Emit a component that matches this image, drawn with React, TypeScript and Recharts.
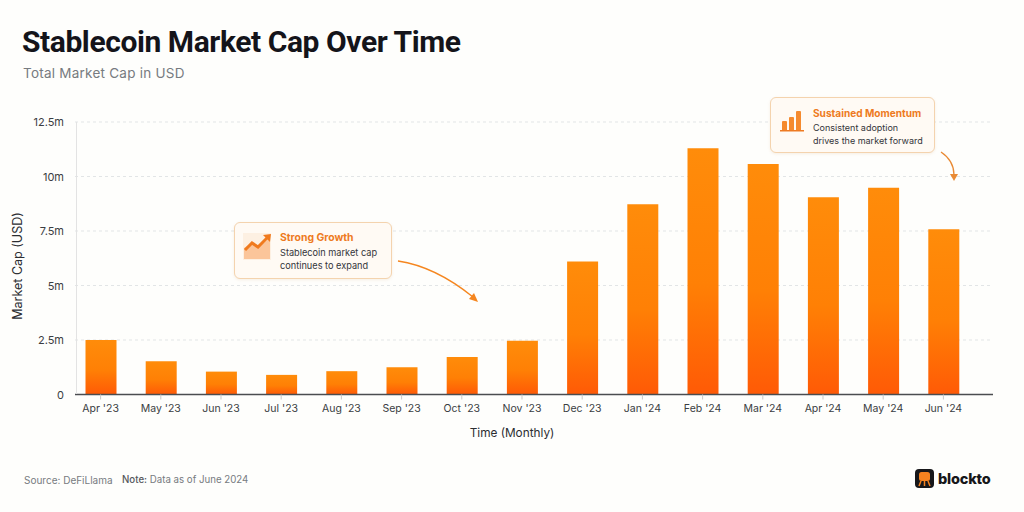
import React from "react";
import { BarChart, Bar, XAxis, YAxis, CartesianGrid, ReferenceLine } from "recharts";

const months = ["Apr '23","May '23","Jun '23","Jul '23","Aug '23","Sep '23","Oct '23","Nov '23","Dec '23","Jan '24","Feb '24","Mar '24","Apr '24","May '24","Jun '24"];
const marketCap = [2.5,1.53,1.05,0.9,1.07,1.25,1.72,2.46,6.1,8.73,11.3,10.57,9.05,9.48,7.58];
const yTicks = [0,2.5,5,7.5,10,12.5];
const yLabels = ["0","2.5m","5m","7.5m","10m","12.5m"];
const data = months.map((month,i)=>({month,value:marketCap[i]}));
const font = "Inter, 'Noto Sans', sans-serif";

const Abs = ({x,y,style,children}:any)=>(
  <div style={{position:"absolute",left:x,top:y,whiteSpace:"nowrap",fontFamily:font,...style}}>{children}</div>
);

export default function App(){
  return (
    <div style={{position:"fixed",left:0,top:0,width:1024,height:512,background:"#fefefc",overflow:"hidden"}}>
      <Abs x={22} y={24} style={{fontFamily:"Roboto, sans-serif",fontWeight:700,fontSize:30,lineHeight:"36px",color:"#14141a",letterSpacing:-0.42}}>Stablecoin Market Cap Over Time</Abs>
      <Abs x={23} y={64} style={{fontSize:13.5,lineHeight:"18px",color:"#777b80",letterSpacing:0.24}}>Total Market Cap in USD</Abs>

      <div style={{position:"absolute",left:0,top:0}}>
        <BarChart width={1024} height={512} data={data} margin={{top:122,right:31,bottom:67.5,left:75}}>
          <defs>
            <linearGradient id="barFill" x1="0" y1="0" x2="0" y2="1">
              <stop offset="0%" stopColor="#ff8c0a"/>
              <stop offset="55%" stopColor="#ff8005"/>
              <stop offset="100%" stopColor="#ff5a06"/>
            </linearGradient>
          </defs>
          <CartesianGrid horizontal vertical={false} stroke="#e2e5e6" strokeDasharray="3 3"/>
          <XAxis dataKey="month" interval={0} padding={{left:-4.5,right:19.5}} tickLine={{stroke:"#c9c9c9"}} tickSize={5} axisLine={false}
            tick={{fontSize:10.5,fill:"#3a3d42",fontFamily:font,dy:3}}
            label={{value:"Time (Monthly)",position:"insideBottom",offset:8,dx:-22,fontSize:11.8,fill:"#2b2d31",fontFamily:font}} height={50}/>
          <YAxis width={0} domain={[0,12.5]} ticks={yTicks} tickFormatter={(v:number)=>yLabels[yTicks.indexOf(v)]} tickLine={false} axisLine={false} hide/>
          <ReferenceLine y={0} stroke="#4b4d50" strokeWidth={1.5}/>
          <Bar dataKey="value" fill="url(#barFill)" barSize={31} isAnimationActive={false}/>
        </BarChart>
      </div>

      {yTicks.map((t,i)=>(
        <Abs key={t} x={0} y={394.5-t*21.8-8} style={{width:64,textAlign:"right",fontSize:11,lineHeight:"16px",color:"#3a3d42"}}>{yLabels[i]}</Abs>
      ))}
      <div style={{position:"absolute",left:75.5,top:122,width:1,height:272,background:"#e3e3e3"}}/>
      <Abs x={18} y={258} style={{fontSize:12.5,lineHeight:"16px",color:"#2b2d31",transform:"translate(-50%,0) rotate(-90deg)"}}>Market Cap (USD)</Abs>

      <div style={{position:"absolute",left:234,top:222,width:158,height:57,boxSizing:"border-box",background:"#fffaf4",border:"1px solid #f4d3ae",borderRadius:6,boxShadow:"0 1px 3px rgba(200,150,90,0.15)"}}/>
      <Abs x={280} y={231} style={{fontSize:10.4,fontWeight:700,lineHeight:"14px",color:"#ee7a22"}}>Strong Growth</Abs>
      <Abs x={280} y={246} style={{fontSize:9.2,lineHeight:"13px",color:"#33353a"}}>Stablecoin market cap<br/>continues to expand</Abs>

      <div style={{position:"absolute",left:770,top:97,width:165,height:56,boxSizing:"border-box",background:"#fffaf4",border:"1px solid #f4d3ae",borderRadius:6,boxShadow:"0 1px 3px rgba(200,150,90,0.15)"}}/>
      <Abs x={813} y={106} style={{fontSize:10.1,fontWeight:700,lineHeight:"14px",color:"#ee7a22"}}>Sustained Momentum</Abs>
      <Abs x={813} y={121} style={{fontSize:9,lineHeight:"13px",color:"#33353a"}}>Consistent adoption<br/>drives the market forward</Abs>

      <svg width={1024} height={512} style={{position:"absolute",left:0,top:0,pointerEvents:"none"}}>
        <rect x={243} y={233} width={28} height={27} fill="#fdf0e2"/>
        <path d="M244 259 V248 L252 243 L258 248 L270 238 V259 Z" fill="#fbc59a"/>
        <path d="M245 250 L252 243 L258 247 L268 237" fill="none" stroke="#f07a1e" strokeWidth={3}/>
        <path d="M263 235 L271 234 L270 242 Z" fill="#f07a1e"/>
        <rect x={782} y={121} width={5} height={10} rx={1} fill="#f58a2e"/>
        <rect x={789} y={117} width={5} height={14} rx={1} fill="#f58a2e"/>
        <rect x={796} y={111} width={5} height={20} rx={1} fill="#f58a2e"/>
        <rect x={780} y={130} width={24} height={1.5} fill="#ee7a22"/>
        <path d="M398 261 C425 265 452 280 473 297" fill="none" stroke="#f5861f" strokeWidth={1.3}/>
        <path d="M478 302 L469 299 L474 293 Z" fill="#f5861f"/>
        <path d="M941 152 C950 158 954 166 954 175" fill="none" stroke="#e98a34" strokeWidth={1.3}/>
        <path d="M954 181 L950 174 L958 174 Z" fill="#e98a34"/>
        <rect x={915} y={469} width={19} height={19} rx={4} fill="#17171a"/>
        <rect x={919} y={472} width={11} height={9} rx={2.5} fill="#f58220"/>
        <path d="M921 481 L919 486 M924.5 481 V486 M928 481 L930 486" stroke="#f58220" strokeWidth={1.5} fill="none"/>
      </svg>

      <Abs x={24} y={473} style={{fontSize:10,lineHeight:"14px",color:"#777b80"}}>Source: DeFiLlama</Abs>
      <Abs x={122} y={473} style={{fontSize:9.7,lineHeight:"14px",color:"#777b80"}}><span style={{color:"#55585c",fontWeight:500}}>Note:</span> Data as of June 2024</Abs>
      <Abs x={938} y={469} style={{fontSize:14.5,fontWeight:800,lineHeight:"20px",color:"#17171a",letterSpacing:-0.2}}>blockto</Abs>
    </div>
  );
}
